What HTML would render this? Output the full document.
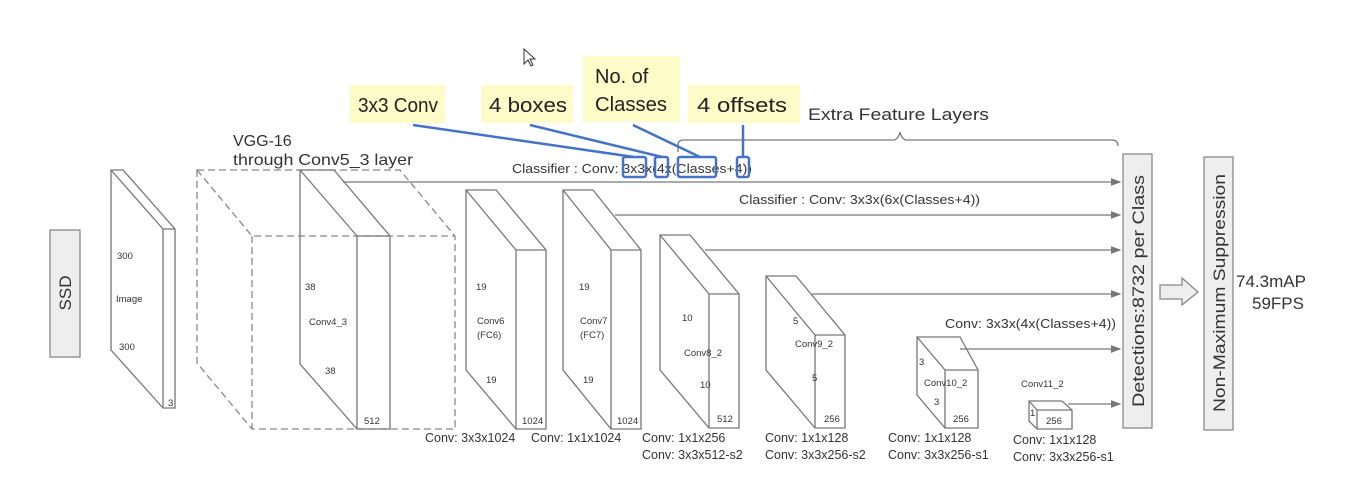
<!DOCTYPE html>
<html><head><meta charset="utf-8"><style>
html,body{margin:0;padding:0;background:#fff}
svg{display:block;font-family:"Liberation Sans",Arial,sans-serif}
</style></head><body>
<svg width="1361" height="478" viewBox="0 0 1361 478" xmlns="http://www.w3.org/2000/svg">
<defs><marker id="ah" markerWidth="8" markerHeight="6" refX="7" refY="3" orient="auto"><path d="M0,0 L8,3 L0,6 z" fill="#777"/></marker></defs>
<g stroke="#777" stroke-width="1.3" fill="none">
<rect x="50" y="230" width="30" height="127" fill="#eee" stroke="#888"/>
<path d="M111,170 L123,170 L175,229 L175,408 L163,408 L111,350 Z M111,170 L163,229 L175,229 M163,229 L163,408" fill="#fff"/>
<g stroke-dasharray="7,4" stroke="#888">
<path d="M197,170 L400,170 L455,236 L455,429 L252,429 L197,363 Z M197,170 L252,236 L455,236 M252,236 L252,429"/>
</g>
<path d="M300,170 L334,170 L390,236 L390,429 L357,429 L300,364 Z M300,170 L357,236 L390,236 M357,236 L357,429"/>
<path d="M466,190 L496,190 L546,250 L546,429 L516,429 L466,370 Z M466,190 L516,250 L546,250 M516,250 L516,429"/>
<path d="M563,190 L593,190 L641,250 L641,429 L611,429 L563,370 Z M563,190 L611,250 L641,250 M611,250 L611,429"/>
<path d="M660,235 L690,235 L739,294 L739,428 L709,428 L660,370 Z M660,235 L709,294 L739,294 M709,294 L709,428"/>
<path d="M766,276 L796,276 L845,335 L845,428 L815,428 L766,370 Z M766,276 L815,335 L845,335 M815,335 L815,428"/>
<path d="M917,337 L960,337 L978,370 L978,428 L945,428 L917,395 Z M917,337 L945,370 L978,370 M945,370 L945,428"/>
<path d="M1029,401 L1062,401 L1072,410 L1072,429 L1037,429 L1029,421 Z M1029,401 L1037,410 L1072,410 M1037,410 L1037,429"/>
<g marker-end="url(#ah)">
<line x1="343" y1="182" x2="1120" y2="182"/>
<line x1="615" y1="215" x2="1120" y2="215"/>
<line x1="705" y1="250" x2="1120" y2="250"/>
<line x1="812" y1="294" x2="1120" y2="294"/>
<line x1="960" y1="349" x2="1120" y2="349"/>
<line x1="1068" y1="404" x2="1120" y2="404"/>
</g>
<path d="M678,152 L678,145 Q678,140 684,140 L893,140 Q898,140 900,132 Q902,140 907,140 L1112,140 Q1118,140 1118,146"/>
<rect x="1123" y="154" width="29" height="274" fill="#eee" stroke="#888"/>
<rect x="1204" y="157" width="29" height="273" fill="#eee" stroke="#888"/>
<path d="M1160,285 L1182,285 L1182,278 L1198,292 L1182,305 L1182,299 L1160,299 Z" fill="#eee" stroke="#888"/>
</g>
<g fill="#fdfbc8">
<rect x="350" y="85" width="95" height="38"/>
<rect x="481" y="85" width="92" height="38"/>
<rect x="583" y="56" width="97" height="66"/>
<rect x="688" y="85" width="112" height="38"/>
</g>
<g font-size="20" fill="#222">
<text x="358" y="112" textLength="80" lengthAdjust="spacingAndGlyphs">3x3 Conv</text>
<text x="489" y="112" textLength="78" lengthAdjust="spacingAndGlyphs">4 boxes</text>
<text x="595" y="83">No. of</text>
<text x="595" y="111" textLength="72" lengthAdjust="spacingAndGlyphs">Classes</text>
<text x="697" y="112" textLength="90" lengthAdjust="spacingAndGlyphs">4 offsets</text>
</g>
<g fill="#333">
<text x="233" y="146" font-size="16">VGG-16</text>
<text x="233" y="165" font-size="16" textLength="180" lengthAdjust="spacingAndGlyphs">through Conv5_3 layer</text>
<text x="808" y="120" font-size="17" textLength="181" lengthAdjust="spacingAndGlyphs">Extra Feature Layers</text>
<text x="512" y="173" font-size="12.5" textLength="240" lengthAdjust="spacingAndGlyphs">Classifier : Conv: 3x3x(4x(Classes+4))</text>
<text x="739" y="204" font-size="13" textLength="241" lengthAdjust="spacingAndGlyphs">Classifier : Conv: 3x3x(6x(Classes+4))</text>
<text x="945" y="328" font-size="13" textLength="171" lengthAdjust="spacingAndGlyphs">Conv: 3x3x(4x(Classes+4))</text>
<text transform="translate(71,293) rotate(-90)" text-anchor="middle" font-size="17">SSD</text>
<g font-size="9.5">
<text x="117" y="259">300</text><text x="116" y="302">Image</text><text x="119" y="350">300</text><text x="168" y="406">3</text>
<text x="305" y="290">38</text><text x="309" y="325">Conv4_3</text><text x="325" y="374">38</text><text x="364" y="424">512</text>
<text x="476" y="290">19</text><text x="477" y="324">Conv6</text><text x="477" y="338">(FC6)</text><text x="486" y="383">19</text><text x="522" y="424">1024</text>
<text x="579" y="290">19</text><text x="580" y="324">Conv7</text><text x="580" y="338">(FC7)</text><text x="583" y="383">19</text><text x="617" y="424">1024</text>
<text x="682" y="321">10</text><text x="684" y="356">Conv8_2</text><text x="700" y="388">10</text><text x="717" y="422">512</text>
<text x="793" y="324">5</text><text x="795" y="347">Conv9_2</text><text x="812" y="381">5</text><text x="824" y="422">256</text>
<text x="919" y="365">3</text><text x="924" y="386">Conv10_2</text><text x="934" y="405">3</text><text x="953" y="422">256</text>
<text x="1021" y="387">Conv11_2</text><text x="1030" y="416">1</text><text x="1046" y="424">256</text>
</g>
<g font-size="12.5">
<text x="425" y="442">Conv: 3x3x1024</text>
<text x="531" y="442">Conv: 1x1x1024</text>
<text x="642" y="442">Conv: 1x1x256</text>
<text x="642" y="459">Conv:  3x3x512-s2</text>
<text x="765" y="442">Conv: 1x1x128</text>
<text x="765" y="459">Conv: 3x3x256-s2</text>
<text x="888" y="442">Conv: 1x1x128</text>
<text x="888" y="459">Conv: 3x3x256-s1</text>
<text x="1013" y="444">Conv: 1x1x128</text>
<text x="1013" y="461">Conv: 3x3x256-s1</text>
</g>
<text transform="translate(1144,291) rotate(-90)" text-anchor="middle" font-size="17" textLength="232" lengthAdjust="spacingAndGlyphs">Detections:8732  per Class</text>
<text transform="translate(1225,293) rotate(-90)" text-anchor="middle" font-size="17" textLength="238" lengthAdjust="spacingAndGlyphs">Non-Maximum Suppression</text>
<text x="1236" y="287" font-size="17">74.3mAP</text>
<text x="1252" y="309" font-size="17">59FPS</text>
</g>
<g stroke="#4472c4" stroke-width="2.5" fill="none">
<line x1="413" y1="125" x2="634" y2="157"/>
<line x1="530" y1="125" x2="662" y2="157"/>
<line x1="633" y1="125" x2="700" y2="157"/>
<line x1="743" y1="125" x2="743" y2="157"/>
<rect x="623" y="157" width="23" height="20" rx="2"/>
<rect x="655" y="157" width="13" height="20" rx="2"/>
<rect x="678" y="157" width="38" height="20" rx="2"/>
<rect x="737" y="157" width="12" height="20" rx="2"/>
</g>
<path d="M524,49 L524,64 L528,60 L531,66 L533,65 L530,59 L535,59 Z" fill="#fff" stroke="#333" stroke-width="1"/>
</svg>
</body></html>
